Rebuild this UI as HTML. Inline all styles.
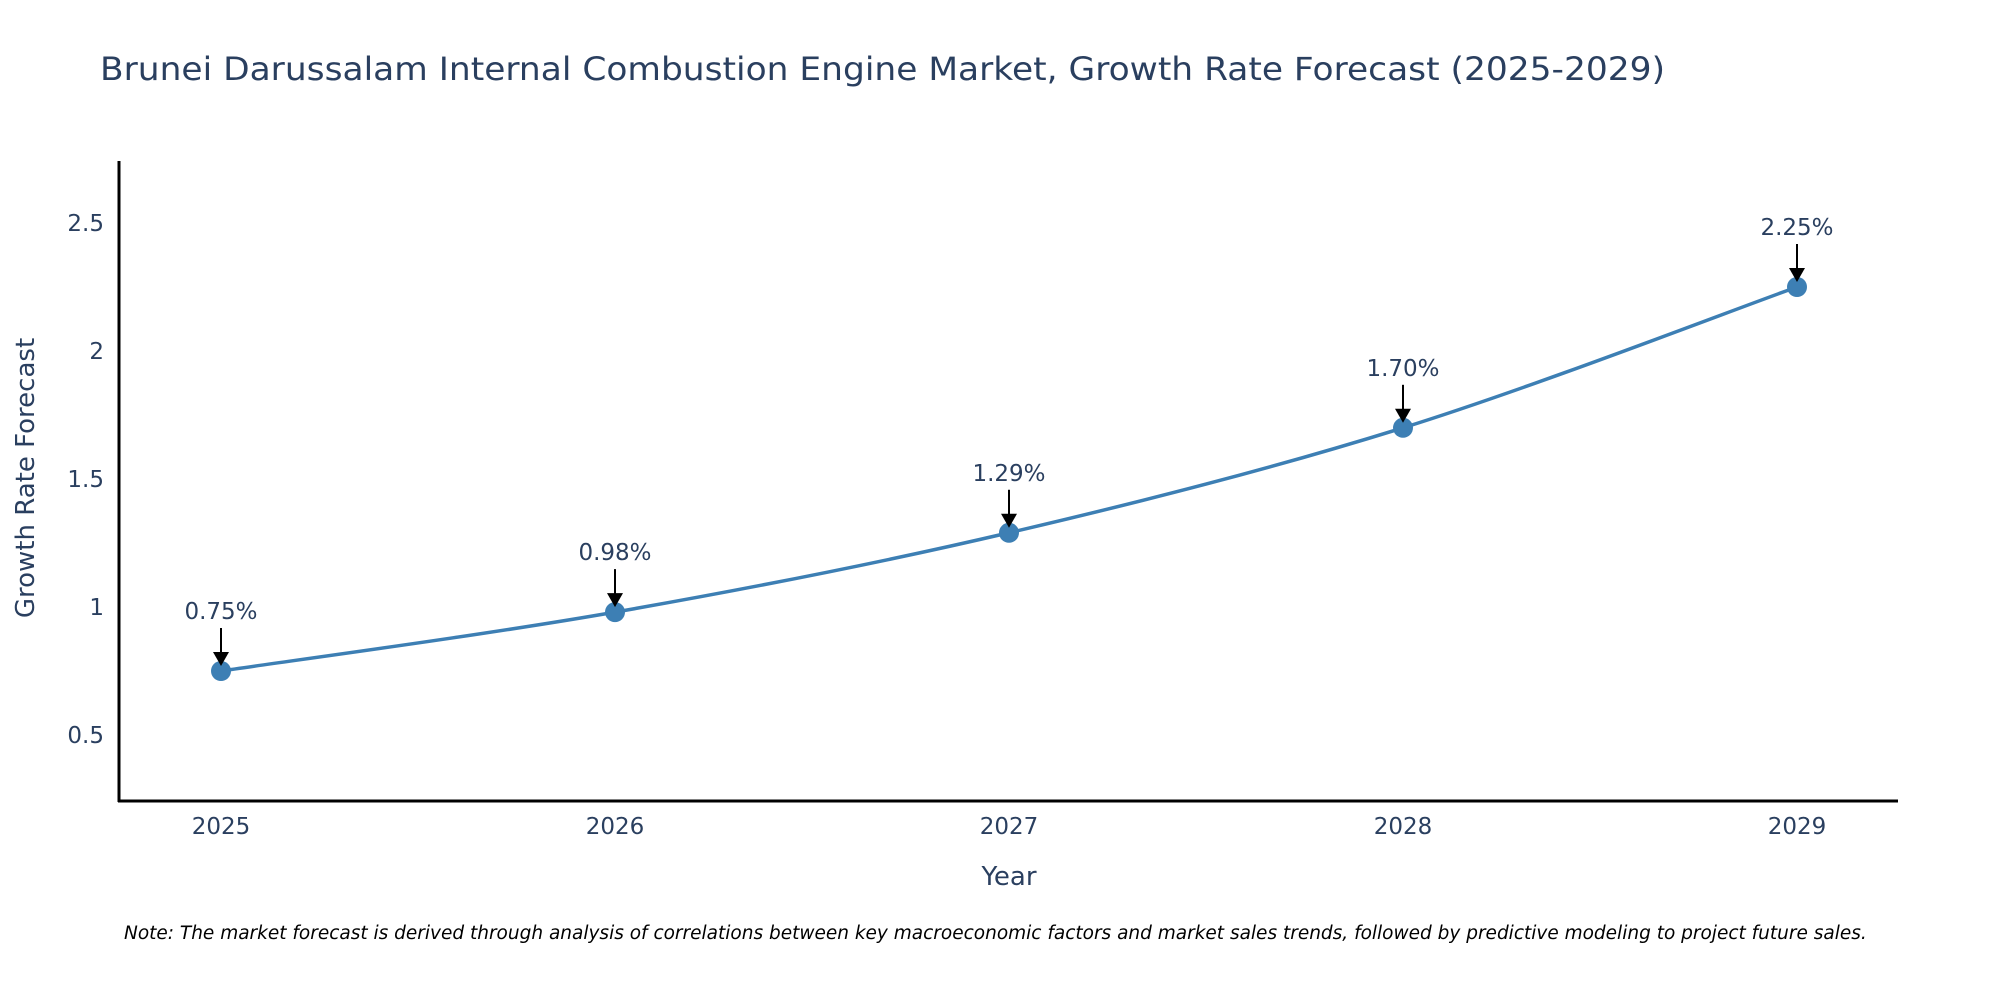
<!DOCTYPE html>
<html><head><meta charset="utf-8"><style>
html,body{margin:0;padding:0;background:#fff;}
svg{display:block;font-family:"DejaVu Sans","Liberation Sans",sans-serif;}
</style></head><body>
<svg id="chart" width="2000" height="1000" viewBox="0 0 2000 1000" xmlns="http://www.w3.org/2000/svg">
<rect width="2000" height="1000" fill="#fff"/>
<text x="100" y="80" font-size="32" fill="#2a3f5f" textLength="1565" lengthAdjust="spacingAndGlyphs">Brunei Darussalam Internal Combustion Engine Market, Growth Rate Forecast (2025-2029)</text>
<g id="yticks"></g>
<g id="xticks"></g>
<line x1="119" y1="161" x2="119" y2="802" stroke="#000" stroke-width="3"/>
<line x1="118" y1="801" x2="1898" y2="801" stroke="#000" stroke-width="3"/>
<text transform="translate(34,478) rotate(-90)" text-anchor="middle" font-size="26" fill="#2a3f5f">Growth Rate Forecast</text>
<text x="1009" y="885" text-anchor="middle" font-size="26" fill="#2a3f5f">Year</text>
<g id="series"></g>
<text x="124" y="939" font-size="18.5" font-style="italic" fill="#000">Note: The market forecast is derived through analysis of correlations between key macroeconomic factors and market sales trends, followed by predictive modeling to project future sales.</text>
</svg>
<script>
const years = [2025, 2026, 2027, 2028, 2029];
const growth = [0.75, 0.98, 1.29, 1.70, 2.25];
const labels = ["0.75%", "0.98%", "1.29%", "1.70%", "2.25%"];
const yTicks = [0.5, 1, 1.5, 2, 2.5];
const yTickLabels = ["0.5", "1", "1.5", "2", "2.5"];

const NS = "http://www.w3.org/2000/svg";
const X = y => 221 + (y - 2025) * 394;
const Y = v => 735 - (v - 0.5) * 256;
function mk(tag, attrs, parent){const e=document.createElementNS(NS,tag);for(const k in attrs)e.setAttribute(k,attrs[k]);parent.appendChild(e);return e;}

const yt=document.getElementById('yticks');
yTicks.forEach((v,i)=>{
  const t=mk('text',{x:104,y:Y(v)+8,'text-anchor':'end','font-size':23,fill:'#2a3f5f'},yt);
  
  
  t.textContent=yTickLabels[i];
});
const xt=document.getElementById('xticks');
years.forEach(y=>{
  const t=mk('text',{x:X(y),y:834,'text-anchor':'middle','font-size':23,fill:'#2a3f5f'},xt);
  
  
  t.textContent=String(y);
});

const s=document.getElementById('series');
const pts=years.map((y,i)=>[X(y),Y(growth[i])]);
let d=`M${pts[0][0]},${pts[0][1]}`;
for(let i=0;i<pts.length-1;i++){
  const p0=pts[Math.max(0,i-1)],p1=pts[i],p2=pts[i+1],p3=pts[Math.min(pts.length-1,i+2)];
  const k=1/6;
  d+=` C${p1[0]+(p2[0]-p0[0])*k},${p1[1]+(p2[1]-p0[1])*k} ${p2[0]-(p3[0]-p1[0])*k},${p2[1]-(p3[1]-p1[1])*k} ${p2[0]},${p2[1]}`;
}
const line=mk('path',{d:d,fill:'none',stroke:'#3d7fb4','stroke-width':3.5},s);


pts.forEach((p,i)=>{
  const c=mk('circle',{cx:p[0],cy:p[1],r:10,fill:'#3d7fb4'},s);
  
  
  const a=mk('line',{x1:p[0],y1:p[1]-43,x2:p[0],y2:p[1]-18,stroke:'#000','stroke-width':2},s);
  
  
  const h=mk('polygon',{points:`${p[0]-8},${p[1]-19} ${p[0]+8},${p[1]-19} ${p[0]},${p[1]-5}`,fill:'#000'},s);
  
  
  const t=mk('text',{x:p[0],y:p[1]-52,'text-anchor':'middle','font-size':23,fill:'#2a3f5f'},s);
  
  
  t.textContent=labels[i];
});
</script>
</body></html>
